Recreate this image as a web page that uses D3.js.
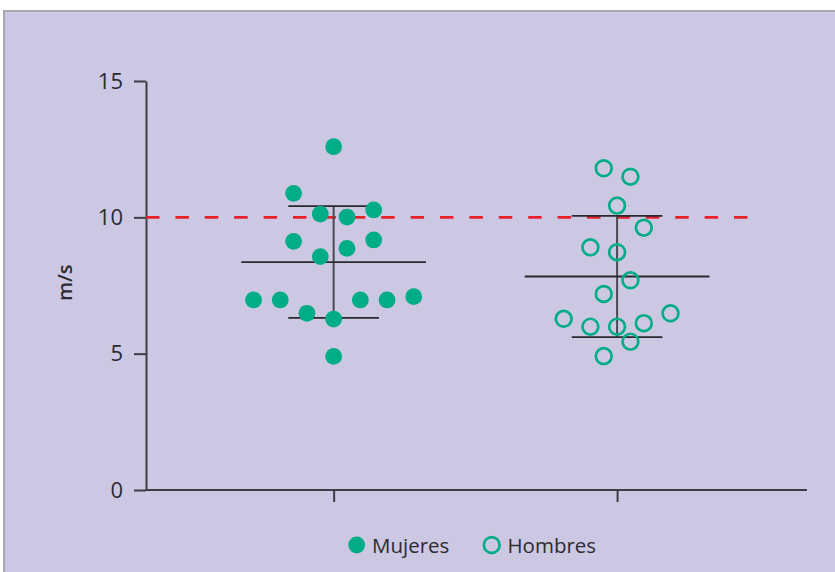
<!DOCTYPE html>
<html>
<head>
<meta charset="utf-8">
<script src="https://cdn.jsdelivr.net/npm/d3@7"></script>
<style>
  html, body { margin: 0; padding: 0; background: #ffffff; }
  svg { display: block; font-family: "Open Sans", "Noto Sans", sans-serif; }
</style>
</head>
<body>
<svg id="chart" width="835" height="572"></svg>
<script>
// Groups and their individual velocity values (m/s)
const categories = ["Mujeres", "Hombres"];
const mujeresValues = [12.59, 10.88, 10.12, 10.01, 10.27, 9.12, 8.86, 9.17, 8.56,
                       6.97, 6.97, 6.48, 6.27, 6.97, 6.97, 7.09, 4.90];
const hombresValues = [11.80, 11.49, 10.43, 9.62, 8.90, 8.72, 7.69, 7.19,
                       6.28, 5.99, 5.99, 6.12, 6.48, 5.44, 4.91];
// Column of each point inside its swarm (in units of one column step)
const mujeresSlots = [0, -1.5, -0.5, 0.5, 1.5, -1.5, 0.5, 1.5, -0.5,
                      -3, -2, -1, 0, 1, 2, 3, 0];
const hombresSlots = [-0.5, 0.5, 0, 1, -1, 0, 0.5, -0.5,
                      -2, -1, 0, 1, 2, 0.5, -0.5];
// Group summaries: mean and standard deviation
const groupMean = [8.36, 7.83];
const groupSD = [2.05, 2.22];
// Reference threshold
const referenceValue = 10;
const yTicks = [0, 5, 10, 15];

const green = "#00ad86";
const axisColor = "#3d3c44";
const textColor = "#2b2a30";

const svg = d3.select("#chart");
const W = 835, H = 572;

// Panel frame
svg.append("rect").attr("x", 4).attr("y", 11).attr("width", W).attr("height", H)
  .attr("fill", "#ccc8e4").attr("stroke", "#a8a7b0").attr("stroke-width", 2);

const plot = { left: 146, right: 807, top: 81, bottom: 490 };

const y = d3.scaleLinear().domain([0, 15]).range([plot.bottom, plot.top]);
const x = d3.scalePoint().domain(categories)
  .range([plot.left, plot.right]).padding(0.666).align(0.497);
const step = x.step();
const slot = d3.scaleLinear().domain([0, 1]).range([0, 26.7]);

// Y axis
const yAxis = svg.append("g").attr("transform", `translate(${plot.left},0)`)
  .call(d3.axisLeft(y).tickValues(yTicks).tickSize(12).tickSizeOuter(0).tickPadding(11));
yAxis.select(".domain").attr("stroke", axisColor).attr("stroke-width", 2);
yAxis.selectAll(".tick line").attr("stroke", axisColor).attr("stroke-width", 2);
yAxis.selectAll(".tick text").attr("fill", textColor)
  .style("font-size", "22px").style("font-family", "\"Open Sans\", sans-serif");

// X axis
const xAxis = svg.append("g").attr("transform", `translate(0,${plot.bottom})`)
  .call(d3.axisBottom(x).tickSize(12).tickSizeOuter(0).tickFormat(""));
xAxis.select(".domain").remove();
xAxis.selectAll(".tick line").attr("stroke", axisColor).attr("stroke-width", 2);
xAxis.append("line").attr("x1", plot.left).attr("x2", plot.right)
  .attr("stroke", axisColor).attr("stroke-width", 2);

// Y axis title
svg.append("text")
  .attr("transform", `translate(72,${(y(7.6))}) rotate(-90)`)
  .attr("text-anchor", "middle")
  .attr("fill", textColor).style("font-size", "20px").style("font-weight", 600)
  .text("m/s");

// Reference line
svg.append("line")
  .attr("x1", plot.left).attr("x2", 749)
  .attr("y1", y(referenceValue)).attr("y2", y(referenceValue))
  .attr("stroke", "#e8202c").attr("stroke-width", 2.6)
  .attr("stroke-dasharray", "13.5,15.9");

// Mean and SD bars
categories.forEach((c, i) => {
  const cx = x(c);
  const g = svg.append("g").attr("stroke", "#2a2930");
  g.append("line").attr("x1", cx).attr("x2", cx)
    .attr("y1", y(groupMean[i] + groupSD[i])).attr("y2", y(groupMean[i] - groupSD[i]))
    .attr("stroke", "#4a4950").attr("stroke-width", 2);
  [groupMean[i] + groupSD[i], groupMean[i] - groupSD[i]].forEach(v => {
    g.append("line").attr("x1", cx - step * 0.16).attr("x2", cx + step * 0.16)
      .attr("y1", y(v)).attr("y2", y(v)).attr("stroke-width", 1.8);
  });
  g.append("line").attr("x1", cx - step * 0.326).attr("x2", cx + step * 0.326)
    .attr("y1", y(groupMean[i])).attr("y2", y(groupMean[i])).attr("stroke-width", 1.8);
});

// Individual points
svg.append("g").selectAll("circle")
  .data(mujeresValues.map((v, i) => ({ v, s: mujeresSlots[i] })))
  .join("circle")
  .attr("cx", d => x("Mujeres") + slot(d.s)).attr("cy", d => y(d.v))
  .attr("r", 8.4).attr("fill", green);

svg.append("g").selectAll("circle")
  .data(hombresValues.map((v, i) => ({ v, s: hombresSlots[i] })))
  .join("circle")
  .attr("cx", d => x("Hombres") + slot(d.s)).attr("cy", d => y(d.v))
  .attr("r", 7.9).attr("fill", "none").attr("stroke", green).attr("stroke-width", 2.7);

// Legend
const legend = svg.append("g").attr("transform", "translate(0,545)");
legend.append("circle").attr("cx", 356.7).attr("r", 8.4).attr("fill", green);
legend.append("text").attr("x", 372).attr("y", 7.5).attr("fill", textColor)
  .style("font-size", "20.5px").text(categories[0]);
legend.append("circle").attr("cx", 491.7).attr("r", 7.9)
  .attr("fill", "none").attr("stroke", green).attr("stroke-width", 2.7);
legend.append("text").attr("x", 507.5).attr("y", 7.5).attr("fill", textColor)
  .style("font-size", "20.5px").text(categories[1]);
</script>
</body>
</html>
